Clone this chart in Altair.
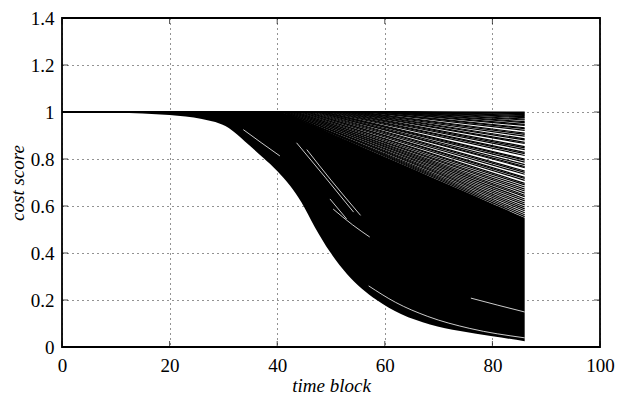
import altair as alt
import pandas as pd

# ---- data ----
x_ticks = [0, 20, 40, 60, 80, 100]
y_ticks = [0, 0.2, 0.4, 0.6, 0.8, 1.0, 1.2, 1.4]

# dense (solid black) bundle: lower envelope and upper edge of the solid part
env_x = [0, 10, 20, 26, 31, 34, 37.4, 40, 42.4, 44.5, 47, 49.8, 53, 58.5, 63, 68.4, 74, 80, 86]
env_low = [1.0, 0.997, 0.987, 0.97, 0.932, 0.875, 0.805, 0.749, 0.686, 0.616, 0.51, 0.405, 0.31, 0.2, 0.14, 0.096, 0.068, 0.046, 0.025]
env_high = [1.0, 1.0, 1.0, 1.0, 1.0, 1.0, 1.0, 1.0, 0.986, 0.965, 0.94, 0.912, 0.88, 0.825, 0.78, 0.726, 0.67, 0.61, 0.55]

# individually visible curves of the fan (value at the last block, block where they leave 1)
X_FIRST = 0
X_LAST = 86
fan_end = [1.0, 0.997, 0.993, 0.989, 0.985, 0.98, 0.976, 0.97, 0.966, 0.959,
           0.955, 0.947, 0.943, 0.933, 0.929, 0.922, 0.91, 0.905, 0.897, 0.886,
           0.881, 0.871, 0.866, 0.853, 0.847, 0.84, 0.828, 0.823, 0.815, 0.8,
           0.795, 0.787, 0.776, 0.768, 0.763, 0.749, 0.743, 0.735, 0.722, 0.717,
           0.709, 0.696, 0.69, 0.681, 0.672, 0.664, 0.655, 0.646, 0.64, 0.63,
           0.622, 0.613, 0.605, 0.596, 0.588, 0.58, 0.571, 0.563, 0.555]
fan_onset = [70, 68, 66, 65, 64, 63, 62, 61.5, 61, 60,
             59.5, 59, 58.5, 57.5, 57, 56.5, 55.5, 55, 54.5, 54,
             53.5, 53, 52.5, 52, 51.5, 51, 50.5, 50, 49.5, 49,
             48.5, 48.5, 48, 47.5, 47.5, 47, 46.5, 46, 45.5, 45.5,
             45, 44.5, 44.5, 44, 43.5, 43.5, 43, 43, 42.5, 42.5,
             42, 42, 41.5, 41.5, 41.5, 41, 41, 41, 41]

# thin gaps visible inside the solid bundle
gap_x = [[33.7, 37, 40.5], [43.6, 49, 54.2], [45.5, 50, 55.5], [49.8, 52.9],
         [50.4, 54, 57.2], [57, 62, 68, 75.8, 86], [76, 81, 86]]
gap_y = [[0.925, 0.87, 0.813], [0.869, 0.72, 0.574], [0.84, 0.71, 0.56], [0.63, 0.545],
         [0.587, 0.52, 0.468], [0.26, 0.19, 0.13, 0.079, 0.039], [0.208, 0.178, 0.149]]

# ---- tables ----
dense = pd.DataFrame({"x": env_x, "low": env_low, "high": env_high})

fan_rows = []
for i, (e, o) in enumerate(zip(fan_end, fan_onset)):
    fan_rows += [{"id": i, "x": X_FIRST, "y": 1.0},
                 {"id": i, "x": o, "y": 1.0},
                 {"id": i, "x": X_LAST, "y": e}]
fan = pd.DataFrame(fan_rows)

gap_rows = []
for i, (gx, gy) in enumerate(zip(gap_x, gap_y)):
    for a, b in zip(gx, gy):
        gap_rows.append({"id": i, "x": a, "y": b})
gaps = pd.DataFrame(gap_rows)

xt = pd.DataFrame({"x": x_ticks})
yt = pd.DataFrame({"y": y_ticks})

W, H = 538, 329
FONT = "Liberation Serif"

xs = alt.Scale(domain=[0, 100], nice=False, zero=False)
ys = alt.Scale(domain=[0, 1.4], nice=False, zero=False)

common = dict(grid=True, ticks=False, domain=False, format="~f",
              labelFont=FONT, labelFontSize=19, labelColor="black",
              labelFlush=False, labelOverlap=False,
              titleFont=FONT, titleFontSize=19, titleFontStyle="italic",
              titleFontWeight="normal", titleColor="black",
              gridColor="black", gridOpacity=0.85, gridWidth=1, gridDash=[1, 4])

x_axis = alt.Axis(values=x_ticks, title="time block", labelPadding=9, titlePadding=1, **common)
y_axis = alt.Axis(values=y_ticks, title="cost score", labelPadding=8, titlePadding=3, **common)

X = alt.X("x:Q", scale=xs, axis=x_axis)
Y = alt.Y("y:Q", scale=ys, axis=y_axis)

area = alt.Chart(dense).mark_area(color="black", interpolate="monotone").encode(
    x=X,
    y=alt.Y("low:Q", scale=ys, axis=y_axis),
    y2="high:Q",
)

gap_lines = alt.Chart(gaps).mark_line(color="white", strokeWidth=0.8, interpolate="monotone").encode(
    x=X, y=Y, detail="id:N",
)

fan_lines = alt.Chart(fan).mark_line(color="black", strokeWidth=1.2).encode(
    x=X, y=Y, detail="id:N",
)

tick_b = alt.Chart(xt).mark_tick(orient="vertical", size=6, thickness=1, color="black").encode(
    x=X, y=alt.value(H - 3))
tick_t = alt.Chart(xt).mark_tick(orient="vertical", size=6, thickness=1, color="black").encode(
    x=X, y=alt.value(3))
tick_l = alt.Chart(yt).mark_tick(orient="horizontal", size=6, thickness=1, color="black").encode(
    y=Y, x=alt.value(3))
tick_r = alt.Chart(yt).mark_tick(orient="horizontal", size=6, thickness=1, color="black").encode(
    y=Y, x=alt.value(W - 3))

chart = alt.layer(area, gap_lines, fan_lines, tick_b, tick_t, tick_l, tick_r).properties(
    width=W, height=H,
    autosize=alt.AutoSizeParams(type="none"),
    padding={"left": 54, "top": 10, "right": 18, "bottom": 49},
    background="white",
).configure_view(stroke="black", strokeWidth=1.8)

chart.save("out.html", embed_options={"renderer": "svg", "actions": False})
